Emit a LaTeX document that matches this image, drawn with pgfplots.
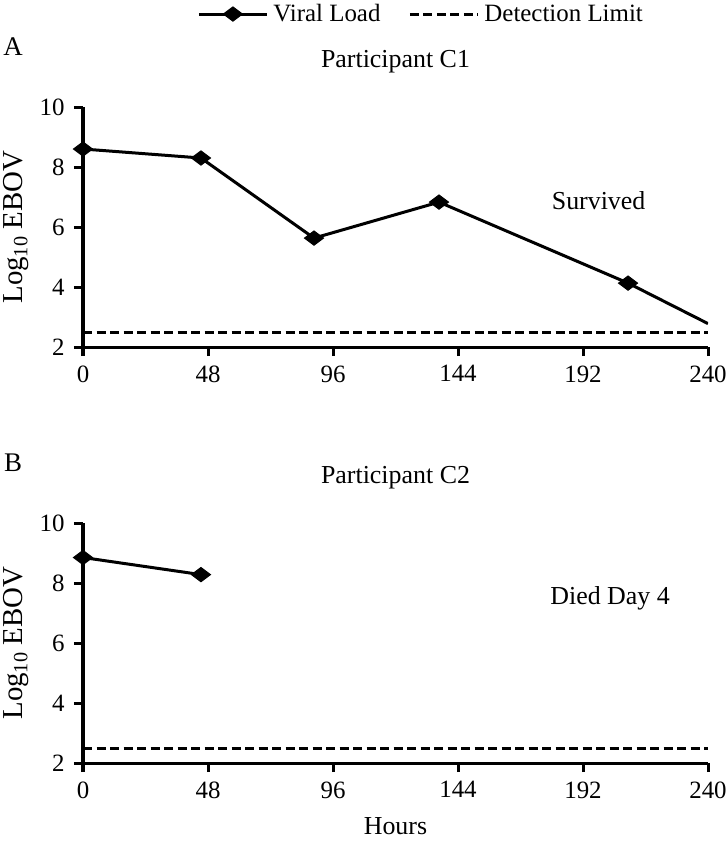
\documentclass[border=0pt]{standalone}
\usepackage{fontspec}
\setmainfont{Liberation Serif}
\usepackage{pgfplots}
\pgfplotsset{compat=1.18}

\pgfplotsset{
  panel/.style={
    scale only axis, width=625bp, height=240bp,
    xmin=0, xmax=240, ymin=2, ymax=10,
    clip mode=individual,
    axis x line=bottom, axis y line=left,
    axis line style={-, line width=3bp},
    xtick={0,48,...,240}, ytick={2,4,...,10},
    tick align=outside, major tick length=9bp,
    tick style={line width=3bp, black},
    tick label style={font=\fontsize{25}{28}\selectfont},
    xticklabel style={yshift=-6bp},
    yticklabel style={xshift=-6bp},
    /pgf/number format/assume math mode=true,
    label style={font=\fontsize{26}{30}\selectfont},
    ylabel={Log\textsubscript{10} EBOV},
    y label style={at={(axis description cs:-0.107,0.5)}, anchor=center,
      font=\fontsize{29}{32}\selectfont},
  },
  vload/.style={black, line width=3bp, mark=diamond*, mark size=9.5bp,
    mark options={rotate=90, solid, fill=black, line width=1bp}},
  dlim/.style={black, line width=3bp, dash pattern=on 9bp off 4.5bp},
}

\begin{document}
\begin{tikzpicture}
\begin{axis}[panel, at={(83bp,-347bp)}, anchor=south west,
  legend columns=2,
  legend style={at={(axis description cs:0.541,1.3875)}, anchor=center, draw=none,
    font=\fontsize{25}{30}\selectfont,
    /tikz/every odd column/.append style={column sep=3bp},
    /tikz/every even column/.append style={column sep=26bp}},
  legend image code/.code={\draw[mark repeat=2,mark phase=2,#1] plot coordinates {(0bp,0bp) (34bp,0bp) (68bp,0bp)};},
]
  \addplot[vload] coordinates {(0,8.6) (45.3,8.3) (88.7,5.63) (136.7,6.83) (209.3,4.13)};
  \addlegendentry{Viral Load}
  \addplot[dlim] coordinates {(0,2.5) (240,2.5)};
  \addlegendentry{Detection Limit}
  \addplot[black, line width=3bp, no marks, forget plot] coordinates {(209.3,4.13) (240,2.78)};
  \node[font=\fontsize{27}{30}\selectfont] at (axis description cs:-0.112,1.25) {A};
  \node[font=\fontsize{26}{30}\selectfont] at (axis description cs:0.5,1.1875) {Participant C1};
  \node[font=\fontsize{26}{30}\selectfont] at (axis cs:198,6.87) {Survived};
\end{axis}

\begin{axis}[panel, at={(83bp,-763bp)}, anchor=south west,
  xlabel={Hours},
  x label style={at={(axis description cs:0.5,-0.2625)}, anchor=center},
]
  \addplot[vload] coordinates {(0,8.85) (45.3,8.28)};
  \addplot[dlim] coordinates {(0,2.5) (240,2.5)};
  \node[font=\fontsize{27}{30}\selectfont] at (axis description cs:-0.112,1.25) {B};
  \node[font=\fontsize{26}{30}\selectfont] at (axis description cs:0.5,1.1875) {Participant C2};
  \node[font=\fontsize{26}{30}\selectfont] at (axis cs:202.4,7.5) {Died Day 4};
\end{axis}
\pgfresetboundingbox
\path[use as bounding box] (0,0) rectangle (728bp,-846bp);
\end{tikzpicture}
\end{document}
